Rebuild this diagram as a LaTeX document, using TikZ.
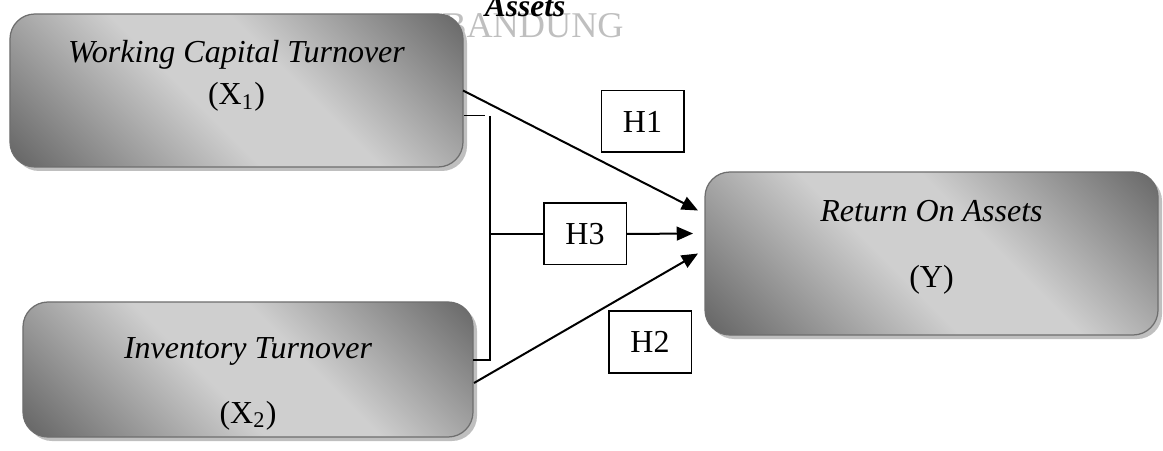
\documentclass[tikz,border=0pt]{standalone}
\usepackage{fontspec}
\setmainfont{Liberation Serif}
\usetikzlibrary{arrows.meta,positioning,calc,shadows}

\definecolor{boxdark}{HTML}{686868}
\definecolor{boxlight}{HTML}{CFCFCF}
\definecolor{boxline}{HTML}{6E6E6E}
% dark corners, wide light band across the middle
\pgfdeclareverticalshading{boxshade}{100bp}{color(0bp)=(boxdark); color(16bp)=(boxdark); color(44bp)=(boxlight); color(58bp)=(boxlight); color(85bp)=(boxdark); color(100bp)=(boxdark)}

\begin{document}
\begin{tikzpicture}[x=0.4pt,y=-0.4pt,>={Triangle[length=6.5pt,width=5.5pt]},font=\fontsize{12.8}{15}\selectfont]
\tikzstyle{var}=[rounded corners=10pt,draw=boxline,line width=0.5pt,inner sep=0pt,outer sep=0pt,shading=boxshade,shading angle=-45,drop shadow={shadow xshift=1.6pt,shadow yshift=-1.6pt,fill=black!25,opacity=1}]
\tikzstyle{hyp}=[draw,line width=0.6pt,inner sep=0pt,minimum width=33pt,minimum height=24.6pt]
\tikzstyle{t}=[anchor=base,font=\fontsize{12.8}{15}\selectfont\itshape]
\tikzstyle{v}=[anchor=base]
\useasboundingbox (0,0) rectangle (1163,451);
% watermark and cut-off heading behind the boxes
\node[anchor=base,text=black!25,font=\fontsize{14.5}{15}\selectfont] (wm) at (533,38) {BANDUNG};
\node[anchor=base,font=\fontsize{12.6}{15}\selectfont\bfseries\itshape] (head) at (525,17) {Assets};
% variables
\node[var,minimum width=181.2pt,minimum height=61.2pt] (wct) at (236.5,90.5) {};
\node[t] (wcttx) at (236.5,63) {Working Capital Turnover};
\node[v] (wctx) at (236.5,105) {(X\textsubscript{1})};
\node[var,minimum width=180pt,minimum height=54pt] (invt) at (248,369.5) {};
\node[t] (invttx) at (248,358) {Inventory Turnover};
\node[v] (invtx) at (248,423) {(X\textsubscript{2})};
\node[var,minimum width=181.2pt,minimum height=65.2pt] (roa) at (931.5,253.5) {};
\node[t] (roatx) at (931.5,222) {Return On Assets};
\node[v] (roay) at (931.5,288) {(Y)};
% hypotheses
\node[hyp] (hone) at (642.5,121.5) {H1};
\node[hyp] (hthree) at (585,234) {H3};
\node[hyp] (htwo) at (650,342) {H2};
% arrow ends at the left side of Y
\coordinate (ta) at ($(roa.west)+(-7,-43)$);
\coordinate (tc) at ($(roa.west)+(-12,-20)$);
\coordinate (tb) at ($(roa.west)+(-7,0)$);
\coordinate (brtop) at (490,116);
% connectors
\draw[->,line width=0.8pt] (wct.east) -- (ta);
\draw[->,line width=0.8pt] ($(invt.east)+(1,13.5)$) -- (tb);
\draw[line width=0.6pt] ($(wct.east)+(1,25)$) -- ++(21,0);
\draw[line width=0.6pt] (brtop) |- ($(invt.east)+(0,-9.5)$);
\draw[line width=0.7pt] (brtop |- hthree) -- (hthree.west);
\draw[->,line width=0.8pt] (hthree.east) -- (tc);
\end{tikzpicture}
\end{document}
